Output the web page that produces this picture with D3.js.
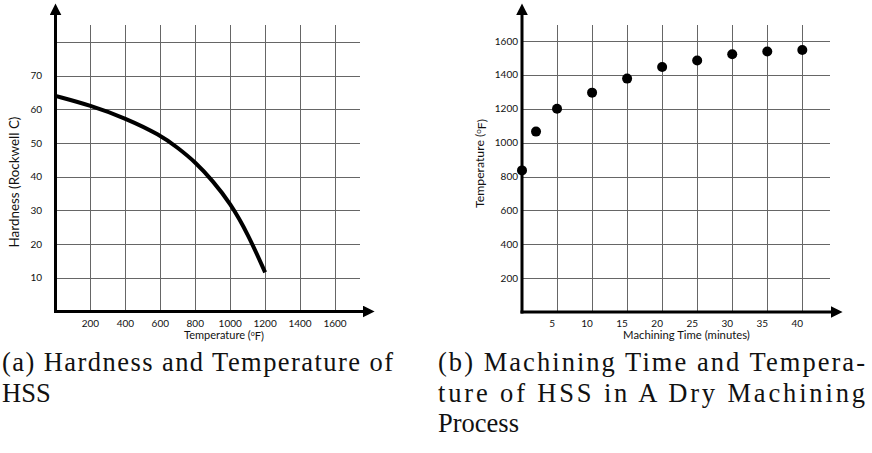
<!DOCTYPE html>
<html>
<head>
<meta charset="utf-8">
<script src="https://cdn.jsdelivr.net/npm/d3@7"></script>
<style>
  body { margin: 0; background: #fff; }
  .tick-label { font-family: Lato, "Open Sans", sans-serif; font-size: 10px; fill: #111; }
  .axis-title { font-family: Lato, "Open Sans", sans-serif; font-size: 10px; fill: #111; }
  .caption { font-family: "Liberation Serif", "DejaVu Serif", serif; fill: #111; }
</style>
</head>
<body>
<div id="chart"></div>
<script>
// chart (a): hardness vs temperature
const tempTicks = [200, 400, 600, 800, 1000, 1200, 1400, 1600];
const hardTicks = [10, 20, 30, 40, 50, 60, 70];
const hardGrid = [10, 20, 30, 40, 50, 60, 70, 80];
const curveTemp = [0, 200, 400, 600, 700, 800, 900, 1000, 1100, 1200];
const curveHard = [64, 61.2, 57.4, 52.4, 48.6, 44.4, 38.8, 32.2, 23.2, 11.6];

// chart (b): machining time vs temperature
const timeTicks = [5, 10, 15, 20, 25, 30, 35, 40];
const dryTempTicks = [200, 400, 600, 800, 1000, 1200, 1400, 1600];
const dotTime = [0, 2, 5, 10, 15, 20, 25, 30, 35, 40];
const dotTemp = [836, 1065, 1200, 1295, 1378, 1446, 1485, 1522, 1538, 1547];

const captionA = ["(a) Hardness and Temperature of", "HSS"];
const captionB = ["(b) Machining Time and Tempera-", "ture of HSS in A Dry Machining", "Process"];

const W = 872, H = 453;
const svg = d3.select('#chart').append('svg')
    .attr('width', W)
    .attr('height', H);

// arrowheads for the axes
const defs = svg.append('defs');
defs.append('marker')
    .attr('id', 'arrow')
    .attr('viewBox', '0 0 10 10')
    .attr('refX', 2).attr('refY', 5)
    .attr('markerWidth', 4).attr('markerHeight', 4)
    .attr('markerUnits', 'strokeWidth')
    .attr('orient', 'auto')
    .append('path')
    .attr('d', 'M0,0 L10,5 L0,10 Z')
    .attr('fill', '#000');

// scale the font so the text is as wide as in the picture
function fitText(t, width) {
    const w = t.node().getComputedTextLength();
    const fs = parseFloat(getComputedStyle(t.node()).fontSize);
    t.style('font-size', (fs * width / w) + 'px');
}

function drawPanel(opt) {
    const g = svg.append('g');
    const x = opt.x, y = opt.y;
    const x0 = x.range()[0], y0 = y.range()[0];

    // grid
    g.selectAll('.vgrid')
        .data(opt.xTicks)
        .join('line')
        .attr('x1', d => Math.round(x(d)) + 0.5)
        .attr('x2', d => Math.round(x(d)) + 0.5)
        .attr('y1', opt.gridTop)
        .attr('y2', y0)
        .attr('stroke', '#666')
        .attr('stroke-width', 1);

    g.selectAll('.hgrid')
        .data(opt.yGrid)
        .join('line')
        .attr('x1', x0)
        .attr('x2', opt.gridRight)
        .attr('y1', d => Math.round(y(d)) + 0.5)
        .attr('y2', d => Math.round(y(d)) + 0.5)
        .attr('stroke', '#666')
        .attr('stroke-width', 1);

    // axes with arrows
    g.append('line')
        .attr('x1', x0).attr('y1', y0 + 1.5)
        .attr('x2', x0).attr('y2', opt.arrowTop + 8)
        .attr('stroke', '#000').attr('stroke-width', 3)
        .attr('marker-end', 'url(#arrow)');
    g.append('line')
        .attr('x1', x0 - 1.5).attr('y1', y0)
        .attr('x2', opt.arrowRight - 8).attr('y2', y0)
        .attr('stroke', '#000').attr('stroke-width', 3)
        .attr('marker-end', 'url(#arrow)');

    // tick labels
    g.selectAll('.xl')
        .data(opt.xTicks)
        .join('text')
        .attr('class', 'tick-label')
        .attr('x', d => x(d) + opt.xLabelShift)
        .attr('y', y0 + 15)
        .attr('text-anchor', 'middle')
        .text(d => d);

    g.selectAll('.yl')
        .data(opt.yTicks)
        .join('text')
        .attr('class', 'tick-label')
        .attr('x', opt.yLabelX)
        .attr('y', d => y(d) + 3.5)
        .attr('text-anchor', 'end')
        .text(d => d);

    // axis titles
    const xt = g.append('text')
        .attr('class', 'axis-title')
        .attr('x', opt.xTitleX)
        .attr('y', y0 + 27)
        .attr('text-anchor', 'middle');
    opt.xTitle(xt);
    fitText(xt, opt.xTitleW);

    const yt = g.append('text')
        .attr('class', 'axis-title')
        .attr('transform', `translate(${opt.yTitleX},${opt.yTitleY}) rotate(-90)`)
        .attr('text-anchor', 'middle');
    opt.yTitle(yt);
    fitText(yt, opt.yTitleW);

    return g;
}

function degF(t, before) {
    t.append('tspan').text(before + ' (');
    t.append('tspan').attr('font-size', '0.65em').attr('dy', '-0.4em').text('o');
    t.append('tspan').attr('dy', '0.4em').text('F)');
}

// panel (a)
const xA = d3.scaleLinear().domain([0, 1600]).range([55.5, 335]);
const yA = d3.scaleLinear().domain([0, 80]).range([311.5, 42]);

const gA = drawPanel({
    x: xA, y: yA,
    xTicks: tempTicks, yTicks: hardTicks, yGrid: hardGrid,
    gridTop: 25, gridRight: 360, arrowTop: 5, arrowRight: 373,
    xLabelShift: 0, yLabelX: 42,
    xTitleX: 224, xTitleW: 80, xTitle: t => degF(t, 'Temperature'),
    yTitleX: 19, yTitleY: 182, yTitleW: 131, yTitle: t => t.text('Hardness (Rockwell C)')
});

const line = d3.line()
    .x(d => xA(d[0]))
    .y(d => yA(d[1]))
    .curve(d3.curveBasis);

gA.append('path')
    .datum(d3.zip(curveTemp, curveHard))
    .attr('d', line)
    .attr('fill', 'none')
    .attr('stroke', '#000')
    .attr('stroke-width', 4);

// panel (b)
const xB = d3.scaleLinear().domain([0, 40]).range([522, 802.3]);
const yB = d3.scaleLinear().domain([0, 1600]).range([312, 41]);

const gB = drawPanel({
    x: xB, y: yB,
    xTicks: timeTicks, yTicks: dryTempTicks, yGrid: dryTempTicks,
    gridTop: 25, gridRight: 830, arrowTop: 5, arrowRight: 841,
    xLabelShift: -5, yLabelX: 518,
    xTitleX: 686.5, xTitleW: 127, xTitle: t => t.text('Machining Time (minutes)'),
    yTitleX: 484, yTitleY: 163.5, yTitleW: 89, yTitle: t => degF(t, 'Temperature')
});

gB.selectAll('.dot')
    .data(d3.zip(dotTime, dotTemp))
    .join('circle')
    .attr('cx', d => xB(d[0]))
    .attr('cy', d => yB(d[1]))
    .attr('r', 5)
    .attr('fill', '#000');

// captions, justified like the typeset original
function caption(lines, left, width) {
    lines.forEach((s, i) => {
        const t = svg.append('text')
            .attr('class', 'caption')
            .attr('x', left)
            .attr('y', 371 + i * 30.5)
            .attr('font-size', '26.5px')
            .text(s);
        if (i < lines.length - 1) {
            t.attr('textLength', width).attr('lengthAdjust', 'spacing');
        }
    });
}
caption(captionA, 2, 391);
caption(captionB, 438, 427);
</script>
</body>
</html>
